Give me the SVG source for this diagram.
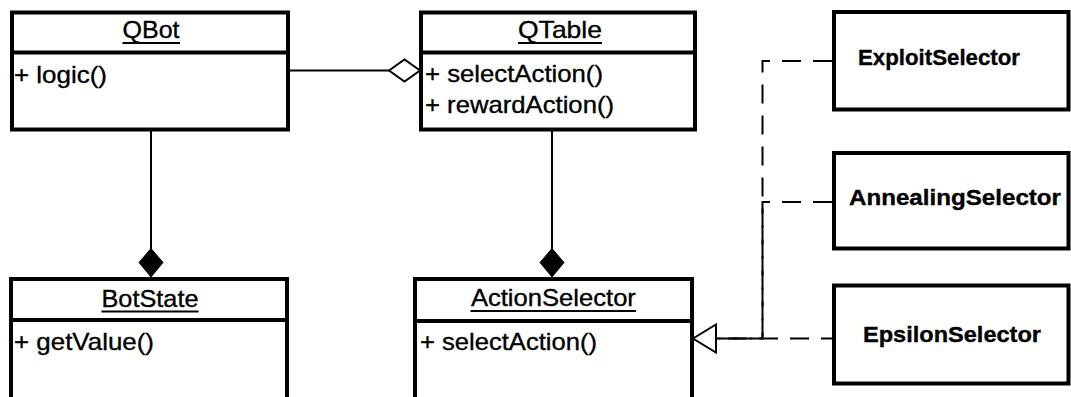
<svg xmlns="http://www.w3.org/2000/svg" width="1071" height="397" viewBox="0 0 1071 397">
  <style>
    .box { fill: #ffffff; stroke: #000000; stroke-width: 4; }
    .div { stroke: #000000; stroke-width: 4; }
    .ul { stroke: #000000; stroke-width: 2; }
    .t { font-family: "Liberation Sans", Arial, sans-serif; font-size: 24px; fill: #000000; stroke: #000000; stroke-width: 0.35; }
    .c { text-anchor: middle; }
    .b { font-weight: bold; font-size: 22px; }
    .edge { fill: none; stroke: #000000; stroke-width: 2; }
    .dash { stroke-dasharray: 19 12; }
    .hollow { fill: #ffffff; stroke: #000000; stroke-width: 2; }
    .solid { fill: #000000; stroke: #000000; stroke-width: 1; }
  </style>

  <!-- connectors -->
  <g id="connectors">
    <!-- QBot <>- QTable (aggregation) -->
    <line class="edge" x1="290" y1="70.5" x2="389" y2="70.5"/>
    <polygon class="hollow" points="389,70.5 404.5,59.5 420,70.5 404.5,81.5"/>
    <!-- QBot composed of BotState -->
    <line class="edge" x1="151" y1="131" x2="151" y2="249"/>
    <polygon class="solid" points="151,248.5 163,262.5 151,277 139,262.5"/>
    <!-- QTable composed of ActionSelector -->
    <line class="edge" x1="552" y1="131" x2="552" y2="249"/>
    <polygon class="solid" points="552,248.5 564,262.5 552,277 540,262.5"/>
    <!-- realizations of ActionSelector -->
    <path class="edge dash" d="M832,61 H762.5 V338.5 H716"/>
    <path class="edge dash" d="M832,202 H762.5 V338.5 H716"/>
    <path class="edge dash" style="stroke-dashoffset:8" d="M832,338.5 H716"/>
    <polygon class="hollow" points="693,338.5 716,324.5 716,352.5"/>
  </g>

  <g id="QBot">
    <rect class="box" x="12" y="12.5" width="276" height="117"/>
    <line class="div" x1="12" y1="52.5" x2="288" y2="52.5"/>
    <text class="t c" x="151" y="37.5" textLength="57" lengthAdjust="spacingAndGlyphs">QBot</text>
    <line class="ul" x1="122.5" y1="43" x2="180" y2="43"/>
    <text class="t" x="14" y="83" textLength="93" lengthAdjust="spacingAndGlyphs">+ logic()</text>
  </g>

  <g id="QTable">
    <rect class="box" x="421" y="12.5" width="274" height="117"/>
    <line class="div" x1="421" y1="52.5" x2="695" y2="52.5"/>
    <text class="t c" x="560" y="37.5" textLength="84" lengthAdjust="spacingAndGlyphs">QTable</text>
    <line class="ul" x1="518" y1="43" x2="602" y2="43"/>
    <text class="t" x="425" y="82" textLength="178" lengthAdjust="spacingAndGlyphs">+ selectAction()</text>
    <text class="t" x="425" y="113" textLength="189" lengthAdjust="spacingAndGlyphs">+ rewardAction()</text>
  </g>

  <g id="BotState">
    <rect class="box" x="11" y="279" width="276" height="140"/>
    <line class="div" x1="11" y1="320" x2="287" y2="320"/>
    <text class="t c" x="150" y="307" textLength="97" lengthAdjust="spacingAndGlyphs">BotState</text>
    <line class="ul" x1="101.5" y1="311.5" x2="198.5" y2="311.5"/>
    <text class="t" x="14" y="350" textLength="140" lengthAdjust="spacingAndGlyphs">+ getValue()</text>
  </g>

  <g id="ActionSelector">
    <rect class="box" x="415" y="279" width="277" height="140"/>
    <line class="div" x1="415" y1="321" x2="692" y2="321"/>
    <text class="t c" x="553.4" y="306" textLength="165" lengthAdjust="spacingAndGlyphs">ActionSelector</text>
    <line class="ul" x1="470.5" y1="311" x2="636" y2="311"/>
    <text class="t" x="420" y="350" textLength="177" lengthAdjust="spacingAndGlyphs">+ selectAction()</text>
  </g>

  <g id="ExploitSelector">
    <rect class="box" x="834" y="12" width="234.5" height="97.5"/>
    <text class="t b" x="858" y="65" textLength="162" lengthAdjust="spacingAndGlyphs">ExploitSelector</text>
  </g>

  <g id="AnnealingSelector">
    <rect class="box" x="834" y="153" width="234.5" height="95.5"/>
    <text class="t b" x="849" y="205" textLength="212" lengthAdjust="spacingAndGlyphs">AnnealingSelector</text>
  </g>

  <g id="EpsilonSelector">
    <rect class="box" x="834" y="285.5" width="234.5" height="98"/>
    <text class="t b" x="863" y="342" textLength="178" lengthAdjust="spacingAndGlyphs">EpsilonSelector</text>
  </g>
</svg>
